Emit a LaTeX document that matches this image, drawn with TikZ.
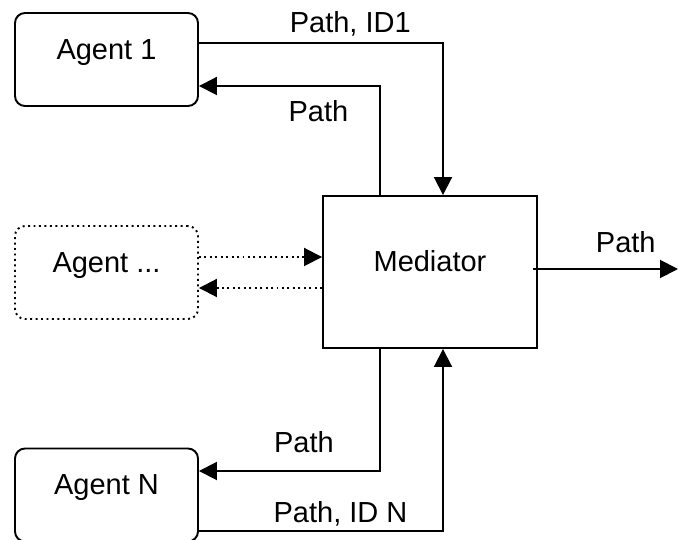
\documentclass[tikz,border=0pt]{standalone}
\usepackage{fontspec}
\setmainfont{Liberation Sans}
\usetikzlibrary{arrows.meta}

\tikzset{
  agent/.style = {draw, rounded corners=0.2cm, minimum width=3.66cm, minimum height=1.86cm,
    text height=0.42cm, text depth=0.42cm},
  mediator/.style = {draw, minimum width=4.28cm, minimum height=3.04cm,
    text height=0.42cm, text depth=0.42cm},
  flow/.style = {-{Triangle[length=0.36cm, width=0.36cm]}},
  lbl/.style = {inner sep=0, text height=0.42cm, text depth=0}
}

\begin{document}
\begin{tikzpicture}[line width=1.1pt, font=\fontsize{16.5pt}{20pt}\selectfont]
      \useasboundingbox (0, 0) rectangle (13.56, -10.8);

      \node[agent] (a1) at (2.13, -1.19) {Agent 1};
      \node[agent, dotted] (ax) at (2.13, -5.45) {Agent ...};
      \node[agent] (an) at (2.13, -9.9) {Agent N};
      \node[mediator] (med) at (8.6, -5.44) {Mediator};
      \coordinate (out) at (13.56, -5.38);

      \draw[flow] ([yshift=0.33cm]a1.east) -| node[lbl, pos=0.31, above=0.2cm] {Path, ID1} ([xshift=0.26cm]med.north);
      \draw[flow] ([xshift=-1cm]med.north) |- node[lbl, pos=0.67, below=0.28cm] {Path} ([yshift=-0.53cm]a1.east);
      \draw[flow, dotted] ([yshift=0.31cm]ax.east) -- ([yshift=0.31cm]ax.east -| med.west);
      \draw[flow, dotted] ([yshift=-0.31cm]ax.east -| med.west) -- ([yshift=-0.31cm]ax.east);
      \draw[flow] ([xshift=-0.1cm, yshift=0.06cm]med.east) -- node[lbl, pos=0.64, above=0.32cm] {Path} (out);
      \draw[flow] ([xshift=-1cm]med.south) |- node[lbl, pos=0.71, above=0.36cm] {Path} ([yshift=0.48cm]an.east);
      \draw[flow] ([yshift=-0.72cm]an.east) -| node[lbl, pos=0.29, above=0.16cm] {Path, ID N} ([xshift=0.26cm]med.south);
    \end{tikzpicture}
\end{document}
